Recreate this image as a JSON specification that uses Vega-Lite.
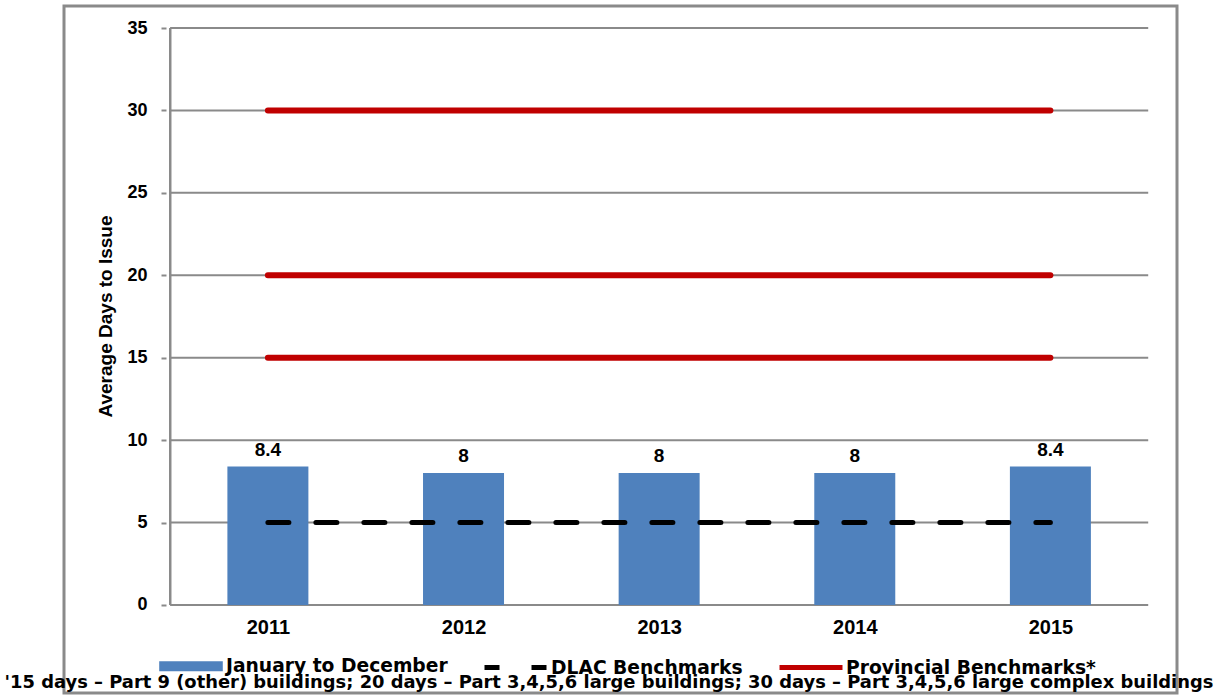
{
  "$schema": "https://vega.github.io/schema/vega-lite/v6.json",
  "width": 1113,
  "height": 687,
  "autosize": {"type": "none"},
  "padding": {"left": 64, "top": 6, "right": 42, "bottom": 3},
  "background": "white",
  "config": {
    "font": "Liberation Sans",
    "view": {"stroke": "#8a8a8a", "strokeWidth": 3}
  },
  "datasets": {
    "grid": [{"v": 0}, {"v": 5}, {"v": 10}, {"v": 15}, {"v": 20}, {"v": 25}, {"v": 30}, {"v": 35}],
    "bars": [
      {"year": 2011, "days": 8.4, "series": "January to December"},
      {"year": 2012, "days": 8, "series": "January to December"},
      {"year": 2013, "days": 8, "series": "January to December"},
      {"year": 2014, "days": 8, "series": "January to December"},
      {"year": 2015, "days": 8.4, "series": "January to December"}
    ],
    "dlac": [
      {"year": 2011, "days": 5, "series": "DLAC Benchmarks"},
      {"year": 2012, "days": 5, "series": "DLAC Benchmarks"},
      {"year": 2013, "days": 5, "series": "DLAC Benchmarks"},
      {"year": 2014, "days": 5, "series": "DLAC Benchmarks"},
      {"year": 2015, "days": 5, "series": "DLAC Benchmarks"}
    ],
    "prov": [
      {"year": 2011, "days": 15, "series": "Provincial Benchmarks*"},
      {"year": 2012, "days": 15, "series": "Provincial Benchmarks*"},
      {"year": 2013, "days": 15, "series": "Provincial Benchmarks*"},
      {"year": 2014, "days": 15, "series": "Provincial Benchmarks*"},
      {"year": 2015, "days": 15, "series": "Provincial Benchmarks*"},
      {"year": 2011, "days": 20, "series": "Provincial Benchmarks*"},
      {"year": 2012, "days": 20, "series": "Provincial Benchmarks*"},
      {"year": 2013, "days": 20, "series": "Provincial Benchmarks*"},
      {"year": 2014, "days": 20, "series": "Provincial Benchmarks*"},
      {"year": 2015, "days": 20, "series": "Provincial Benchmarks*"},
      {"year": 2011, "days": 30, "series": "Provincial Benchmarks*"},
      {"year": 2012, "days": 30, "series": "Provincial Benchmarks*"},
      {"year": 2013, "days": 30, "series": "Provincial Benchmarks*"},
      {"year": 2014, "days": 30, "series": "Provincial Benchmarks*"},
      {"year": 2015, "days": 30, "series": "Provincial Benchmarks*"}
    ]
  },
  "layer": [
    {
      "data": {"name": "grid"},
      "mark": {"type": "rule", "color": "#8a8a8a", "strokeWidth": 2},
      "encoding": {
        "x": {
          "datum": 2010.5,
          "type": "quantitative",
          "scale": {"domain": [2009.9833, 2015.6216], "nice": false, "zero": false},
          "axis": {
            "offset": -88,
            "values": [2011, 2012, 2013, 2014, 2015],
            "format": "d",
            "grid": false,
            "domain": false,
            "ticks": false,
            "labelFont": "Liberation Sans",
            "labelFontWeight": "bold",
            "labelFontSize": 20,
            "labelColor": "black",
            "labelPadding": 12,
            "labelFlush": false,
            "labelOverlap": false,
            "title": "'15 days – Part 9 (other) buildings; 20 days – Part 3,4,5,6 large buildings; 30 days – Part 3,4,5,6 large complex buildings",
            "titleFont": "DejaVu Sans",
            "titleFontWeight": "bold",
            "titleFontSize": 17.9,
            "titleColor": "black",
            "titleX": 544.5,
            "titleY": 82,
            "titleAlign": "center",
            "titleBaseline": "alphabetic"
          }
        },
        "x2": {"datum": 2015.5},
        "y": {
          "field": "v",
          "type": "quantitative",
          "scale": {"domain": [-5.338, 36.3345], "nice": false, "zero": false},
          "axis": {
            "offset": -102,
            "values": [0, 5, 10, 15, 20, 25, 30, 35],
            "grid": false,
            "domain": false,
            "tickColor": "#8a8a8a",
            "tickWidth": 2,
            "tickSize": 5,
            "labelFont": "Liberation Sans",
            "labelFontWeight": "bold",
            "labelFontSize": 18,
            "labelColor": "black",
            "labelPadding": 14,
            "labelFlush": false,
            "labelOverlap": false,
            "title": "Average Days to Issue",
            "titleFont": "Liberation Sans",
            "titleFontWeight": "bold",
            "titleFontSize": 19,
            "titleColor": "black",
            "titleX": -61,
            "titleY": 310,
            "titleAlign": "center",
            "titleBaseline": "middle",
            "titleAngle": -90
          }
        }
      }
    },
    {
      "data": {"name": "grid"},
      "mark": {"type": "rule", "color": "#8a8a8a", "strokeWidth": 2},
      "encoding": {
        "x": {"datum": 2010.5, "type": "quantitative"},
        "y": {"datum": 0, "type": "quantitative"},
        "y2": {"datum": 35}
      }
    },
    {
      "data": {"name": "bars"},
      "mark": {"type": "bar", "width": 81},
      "encoding": {
        "x": {"field": "year", "type": "quantitative"},
        "y": {"field": "days", "type": "quantitative"},
        "color": {
          "field": "series",
          "type": "nominal",
          "scale": {
            "domain": ["January to December", "DLAC Benchmarks", "Provincial Benchmarks*"],
            "range": ["#4F81BD", "#000000", "#C00000"]
          },
          "legend": {
            "orient": "none",
            "direction": "horizontal",
            "legendX": 93,
            "legendY": 626,
            "title": null,
            "symbolType": "stroke",
            "symbolSize": 3969,
            "symbolStrokeWidth": 5,
            "labelFont": "DejaVu Sans",
            "labelFontWeight": "bold",
            "labelFontSize": 18.7,
            "labelColor": "black",
            "labelOffset": 1,
            "columnPadding": 26,
            "labelLimit": 400,
            "encode": {
              "symbols": {
                "update": {
                  "shape": {"signal": "datum.value === 'January to December' ? 'M-0.93,-0.08H0.93V0.08H-0.93Z' : 'stroke'"},
                  "fill": {"signal": "datum.value === 'January to December' ? '#4F81BD' : 'transparent'"},
                  "strokeDash": {"signal": "datum.value === 'DLAC Benchmarks' ? [15, 32] : [1, 0]"}
                }
              }
            }
          }
        }
      }
    },
    {
      "data": {"name": "prov"},
      "mark": {"type": "line", "strokeWidth": 6, "strokeCap": "round"},
      "encoding": {
        "x": {"field": "year", "type": "quantitative"},
        "y": {"field": "days", "type": "quantitative"},
        "color": {"field": "series", "type": "nominal"},
        "detail": {"field": "days", "type": "nominal"}
      }
    },
    {
      "data": {"name": "dlac"},
      "mark": {"type": "line", "strokeWidth": 5, "strokeCap": "round", "strokeDash": [21, 27]},
      "encoding": {
        "x": {"field": "year", "type": "quantitative"},
        "y": {"field": "days", "type": "quantitative"},
        "color": {"field": "series", "type": "nominal"}
      }
    },
    {
      "data": {"name": "bars"},
      "mark": {"type": "text", "dy": -11, "baseline": "alphabetic", "font": "Liberation Sans", "fontWeight": "bold", "fontSize": 19, "color": "black"},
      "encoding": {
        "x": {"field": "year", "type": "quantitative"},
        "y": {"field": "days", "type": "quantitative"},
        "text": {"field": "days", "type": "quantitative"}
      }
    }
  ]
}
